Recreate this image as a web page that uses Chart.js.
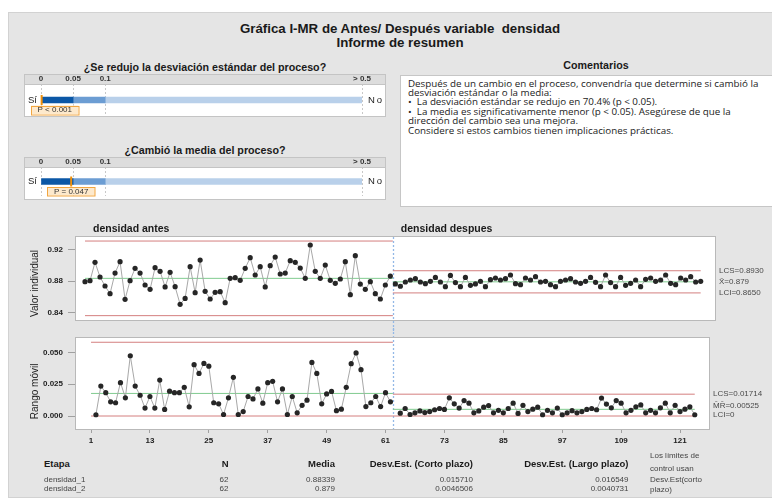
<!DOCTYPE html>
<html lang="es">
<head>
<meta charset="utf-8">
<title>Gráfica I-MR de Antes/Después variable densidad</title>
<script src="https://cdn.jsdelivr.net/npm/chart.js@4.4.1/dist/chart.umd.min.js"></script>
<style>
html,body{margin:0;padding:0;background:#ffffff;}
body{width:772px;height:502px;position:relative;overflow:hidden;font-family:"Liberation Sans",Arial,sans-serif;color:#1a1a1a;}
#panel{position:absolute;left:8px;top:12px;width:800px;height:486px;background:#e5e5e5;border-left:1px solid #d2d2d2;border-top:1px solid #d2d2d2;border-bottom:1px solid #d2d2d2;box-sizing:border-box;}
.t{position:absolute;white-space:pre;}
.b{font-weight:bold;}
canvas{position:absolute;}
#cbox{position:absolute;left:400px;top:75px;width:420px;height:132px;background:#fff;border:1px solid #c6c6c6;box-sizing:border-box;}
#ctext{position:absolute;left:408px;top:78.5px;font-family:"Open Sans",sans-serif;font-size:9.8px;line-height:9.4px;color:#222;white-space:pre;}
</style>
</head>
<body>
<div id="panel"></div>
<div class="t b" style="left:100px;width:600px;top:21px;text-align:center;font-size:13.3px;line-height:15px;">Gráfica I-MR de Antes/ Después variable  densidad</div>
<div class="t b" style="left:100px;width:600px;top:34.5px;text-align:center;font-size:13.3px;line-height:15px;">Informe de resumen</div>
<div class="t b" style="left:24px;width:362px;top:60.5px;text-align:center;font-size:10.7px;line-height:12px;">¿Se redujo la desviación estándar del proceso?</div>
<div class="t b" style="left:24px;width:362px;top:144px;text-align:center;font-size:10.7px;line-height:12px;">¿Cambió la media del proceso?</div>
<div class="t b" style="left:496px;width:200px;top:59px;text-align:center;font-size:10.7px;line-height:12px;">Comentarios</div>
<div id="cbox"></div>
<div id="ctext"></div>
<canvas id="q1" width="362" height="43" style="left:24px;top:74px"></canvas>
<canvas id="q2" width="362" height="43" style="left:24px;top:157px"></canvas>
<canvas id="ci" width="772" height="115" style="left:0;top:218px"></canvas>
<canvas id="cmr" width="772" height="122" style="left:0;top:328px"></canvas>
<div id="tbl"></div>
<script>
// ---------------- data ----------------
const stageNames = ['densidad antes', 'densidad despues'];
const stageFirst = [1, 63];
const indAntes = [0.8792,0.8804,0.9036,0.8851,0.8737,0.8640,0.8901,0.9044,0.8569,0.8804,
  0.8960,0.8901,0.8750,0.8695,0.8969,0.8922,0.8725,0.8910,0.8729,0.8506,
  0.8581,0.8981,0.8653,0.9065,0.8670,0.8573,0.8657,0.8666,0.8527,0.8834,
  0.8842,0.8809,0.8960,0.9095,0.8876,0.8981,0.8725,0.8994,0.9103,0.8889,
  0.8901,0.9057,0.9036,0.8964,0.8834,0.9255,0.8922,0.8834,0.9002,0.8809,
  0.8771,0.8826,0.9044,0.8628,0.9120,0.8762,0.8695,0.8792,0.8640,0.8573,
  0.8750,0.8863];
const indDespues = [0.8763,0.8734,0.8788,0.8813,0.8830,0.8788,0.8767,0.8796,0.8846,0.8788,
  0.8729,0.8871,0.8780,0.8729,0.8846,0.8746,0.8763,0.8796,0.8729,0.8817,
  0.8838,0.8813,0.8830,0.8876,0.8767,0.8754,0.8838,0.8813,0.8855,0.8788,
  0.8796,0.8754,0.8729,0.8796,0.8813,0.8830,0.8788,0.8771,0.8796,0.8846,
  0.8784,0.8729,0.8876,0.8780,0.8729,0.8846,0.8746,0.8771,0.8813,0.8729,
  0.8821,0.8838,0.8796,0.8813,0.8876,0.8771,0.8754,0.8838,0.8813,0.8855,
  0.8788,0.8796];
const mrAntes = [0.0010,0.0235,0.0183,0.0111,0.0104,0.0262,0.0143,0.0473,0.0235,0.0163,
  0.0062,0.0153,0.0062,0.0282,0.0052,0.0195,0.0183,0.0183,0.0225,0.0072,
  0.0403,0.0334,0.0413,0.0391,0.0104,0.0096,0.0012,0.0143,0.0304,0.0012,
  0.0035,0.0153,0.0134,0.0213,0.0101,0.0262,0.0272,0.0111,0.0213,0.0012,
  0.0153,0.0025,0.0084,0.0124,0.0421,0.0334,0.0096,0.0173,0.0193,0.0042,
  0.0054,0.0225,0.0411,0.0495,0.0364,0.0074,0.0104,0.0153,0.0074,0.0183,0.0111];
const mrDespues = [0.0022,0.0059,0.0012,0.0025,0.0040,0.0027,0.0035,0.0049,0.0059,0.0052,
  0.0143,0.0096,0.0062,0.0121,0.0101,0.0025,0.0040,0.0069,0.0082,0.0025,
  0.0045,0.0025,0.0059,0.0101,0.0020,0.0084,0.0035,0.0054,0.0069,0.0010,
  0.0045,0.0025,0.0062,0.0010,0.0025,0.0042,0.0025,0.0035,0.0052,0.0059,
  0.0049,0.0141,0.0094,0.0064,0.0121,0.0101,0.0025,0.0045,0.0072,0.0087,
  0.0025,0.0045,0.0025,0.0064,0.0101,0.0025,0.0084,0.0035,0.0054,0.0072,0.0010];
const iUCL = [0.9305, 0.8930];
const iCL  = [0.88339, 0.879];
const iLCL = [0.8363, 0.8650];
const mrUCL = [0.0579, 0.01714];
const mrCL  = [0.01772, 0.00525];
const mrLCL = [0, 0];
const obsTicks = [1,13,25,37,49,61,73,85,97,109,121];
const iTicks = [0.84, 0.88, 0.92];
const mrTicks = [0, 0.025, 0.05];
const pTicks = [0, 0.05, 0.1, 0.5];
const pTickLabels = ['0', '0.05', '0.1', '> 0.5'];
const pBandFrom = [0, 0.05, 0.1];
const pBandTo = [0.05, 0.1, 0.5];
const pValues = [0.001, 0.047];
const pLabels = ['P < 0.001', 'P = 0.047'];
const tblHead = ['Etapa', 'N', 'Media', 'Desv.Est. (Corto plazo)', 'Desv.Est. (Largo plazo)'];
const tblStage = ['densidad_1', 'densidad_2'];
const tblN = ['62', '62'];
const tblMean = ['0.88339', '0.879'];
const tblSdShort = ['0.015710', '0.0046506'];
const tblSdLong = ['0.016549', '0.0040731'];
const tblNote = ['Los límites de', 'control usan', 'Desv.Est(corto', 'plazo)'];
const comments = [
  'Después de un cambio en el proceso, convendría que determine si cambió la',
  'desviación estándar o la media:',
  '•  La desviación estándar se redujo en 70.4% (p < 0.05).',
  '•  La media es significativamente menor (p < 0.05). Asegúrese de que la',
  'dirección del cambio sea una mejora.',
  'Considere si estos cambios tienen implicaciones prácticas.'
];

// ---------------- comments & table text ----------------
document.getElementById('ctext').textContent = comments.join('\n');
const tbl = document.getElementById('tbl');
function txt(s, x, y, align, size, bold, color) {
  const d = document.createElement('div');
  d.className = 't';
  d.textContent = s;
  d.style.fontSize = size + 'px';
  d.style.lineHeight = '10px';
  d.style.top = (y - 5) + 'px';
  d.style.color = color;
  if (bold) d.style.fontWeight = 'bold';
  if (align === 'right') { d.style.left = (x - 200) + 'px'; d.style.width = '200px'; d.style.textAlign = 'right'; }
  else { d.style.left = x + 'px'; }
  tbl.appendChild(d);
}
const colX = [44, 228.5, 335, 473, 628.5];
const colAlign = ['left', 'right', 'right', 'right', 'right'];
tblHead.forEach((h, i) => txt(h, colX[i], 463.5, colAlign[i], 9.5, true, '#1a1a1a'));
const rowY = [480, 489];
tblStage.forEach((s, r) => {
  const row = [s, tblN[r], tblMean[r], tblSdShort[r], tblSdLong[r]];
  row.forEach((v, i) => txt(v, colX[i], rowY[r], colAlign[i], 8, false, '#444'));
});
const noteY = [456, 468.5, 480, 490];
tblNote.forEach((s, i) => txt(s, 650, noteY[i], 'left', 8, false, '#444'));

// ---------------- Chart.js ----------------
Chart.defaults.font.family = '"Liberation Sans", Arial, sans-serif';
Chart.defaults.animation = false;
Chart.defaults.responsive = false;
Chart.defaults.events = [];

// p-value bars
const pBandColors = ['#0b57a6', '#6c9dd3', '#b9d0ea'];
function makePChart(id, k, padBottom) {
  const markerPlugin = {
    id: 'pdeco' + k,
    beforeDraw(c) {
      const g = c.ctx, a = c.chartArea, W = c.width, H = c.height;
      g.save();
      g.fillStyle = '#dddddd'; g.fillRect(0, 0, W, a.top);
      g.fillStyle = '#ffffff'; g.fillRect(0, a.top, W, H - a.top);
      g.restore();
    },
    afterDraw(c) {
      const g = c.ctx, a = c.chartArea, W = c.width, H = c.height;
      const xs = c.scales.x, ys = c.scales.y;
      const cy = ys.getPixelForValue(0);
      g.save();
      g.strokeStyle = '#c4c4c4'; g.lineWidth = 1;
      g.strokeRect(0.5, 0.5, W - 1, H - 1);
      g.beginPath(); g.moveTo(0, Math.round(a.top) + 0.5); g.lineTo(W, Math.round(a.top) + 0.5); g.stroke();
      // Si / No
      g.fillStyle = '#222'; g.font = '9.5px "Liberation Sans"'; g.textBaseline = 'middle';
      g.textAlign = 'right'; g.fillText('Sí', a.left - 4, cy);
      g.textAlign = 'left';
      if ('letterSpacing' in g) g.letterSpacing = '2px';
      g.fillText('No', a.right + 6, cy);
      if ('letterSpacing' in g) g.letterSpacing = '0px';
      // marker
      const px = xs.getPixelForValue(pValues[k]);
      g.strokeStyle = '#f0900a'; g.lineWidth = 2;
      g.beginPath(); g.moveTo(px, cy - 5); g.lineTo(px, cy + 5); g.stroke();
      // label
      const bw = 47.5, bh = 8.5;
      let bl = px - bw / 2;
      if (bl < a.left - 10) bl = a.left - 10;
      const bt = cy + 5.5;
      g.fillStyle = '#fde9cc'; g.fillRect(bl, bt, bw, bh);
      g.strokeStyle = '#f2a640'; g.lineWidth = 1; g.strokeRect(Math.round(bl) + 0.5, Math.round(bt) + 0.5, bw, bh);
      g.fillStyle = '#333'; g.font = '8px "Liberation Sans"'; g.textAlign = 'center';
      g.fillText(pLabels[k], bl + bw / 2, bt + bh / 2 + 0.5);
      g.restore();
    }
  };
  return new Chart(document.getElementById(id), {
    type: 'bar',
    data: {
      labels: ['p'],
      datasets: pBandFrom.map((f, i) => ({
        data: [[f, pBandTo[i]]],
        backgroundColor: pBandColors[i],
        borderWidth: 0,
        barThickness: 6,
        grouped: false
      }))
    },
    options: {
      indexAxis: 'y',
      layout: { padding: { left: 17, right: 24, top: 0, bottom: padBottom } },
      plugins: { legend: { display: false }, tooltip: { enabled: false } },
      scales: {
        x: {
          type: 'linear', position: 'top', min: 0, max: 0.5,
          afterBuildTicks: s => { s.ticks = pTicks.map(v => ({ value: v })); },
          afterFit: s => { s.height = 10; },
          ticks: { autoSkip: false, maxRotation: 0, padding: 0, color: '#333',
                   font: { size: 8, weight: 'bold' }, callback: (v, i) => pTickLabels[i] },
          grid: { drawTicks: false, color: '#c8c8c8', lineWidth: 1 },
          border: { display: false, dash: [2, 2] }
        },
        y: { display: false }
      }
    },
    plugins: [markerPlugin]
  });
}
makePChart('q1', 0, 1);
makePChart('q2', 1, 4);

// control charts
const lastAntes = stageFirst[0] + indAntes.length - 1;
const boundary = (lastAntes + stageFirst[1]) / 2;
const lastObs = stageFirst[1] + indDespues.length - 1;
const spanFrom = [stageFirst[0], boundary];
const spanTo = [boundary, lastObs];
const RED = '#d47f7f', GREEN = '#80cb8f';

function pointsDS(arr, first) {
  return {
    data: arr.map((v, k) => ({ x: first + k, y: v })),
    borderColor: '#a8a8a8', borderWidth: 1, tension: 0,
    pointRadius: 2.6, pointBackgroundColor: '#262626', pointBorderColor: '#262626', pointBorderWidth: 0,
    order: 0
  };
}
function limitDS(vals, color) {
  return [0, 1].map(s => ({
    data: [{ x: spanFrom[s], y: vals[s] }, { x: spanTo[s], y: vals[s] }],
    borderColor: color, borderWidth: 1, pointRadius: 0, order: 1
  }));
}
function deco(o) {
  return {
    id: 'deco' + o.key,
    beforeDraw(c) {
      const a = c.chartArea, g = c.ctx;
      g.save(); g.fillStyle = '#fff'; g.fillRect(a.left, a.top, a.right - a.left, a.bottom - a.top); g.restore();
    },
    beforeDatasetsDraw(c) {
      const g = c.ctx, xs = c.scales.x;
      const bx = Math.round(xs.getPixelForValue(boundary)) + 0.5;
      g.save();
      g.strokeStyle = '#93b8e6'; g.lineWidth = 1.3; g.setLineDash([2, 2]);
      g.beginPath(); g.moveTo(bx, o.divTop(c)); g.lineTo(bx, o.divBottom(c)); g.stroke();
      g.restore();
    },
    afterDraw(c) {
      const a = c.chartArea, g = c.ctx, ys = c.scales.y, xs = c.scales.x;
      g.save();
      g.strokeStyle = '#b9b9b9'; g.lineWidth = 1;
      g.strokeRect(Math.round(a.left) - 0.5, Math.round(a.top) - 0.5, Math.round(a.right - a.left) + 1, Math.round(a.bottom - a.top) + 1);
      g.fillStyle = '#4a4a4a'; g.font = '8px "Liberation Sans"'; g.textAlign = 'left'; g.textBaseline = 'middle';
      o.right.forEach(r => g.fillText(r.text, a.right + 4, ys.getPixelForValue(r.v) + r.dy));
      if (o.stages) {
        g.fillStyle = '#1a1a1a'; g.font = 'bold 10.5px "Liberation Sans"';
        const anchors = [stageFirst[0], boundary];
        stageNames.forEach((n, s) => g.fillText(n, xs.getPixelForValue(anchors[s]) + 8, a.top - 8));
      }
      g.translate(35, (a.top + a.bottom) / 2 + o.titleDy);
      g.rotate(-Math.PI / 2);
      g.textAlign = 'center'; g.fillStyle = '#222'; g.font = '10px "Liberation Sans"';
      g.fillText(o.title, 0, 0);
      g.restore();
    }
  };
}
const yTickFont = { size: 8, weight: 'bold' };

new Chart(document.getElementById('ci'), {
  type: 'line',
  data: {
    datasets: [pointsDS(indAntes, stageFirst[0]), pointsDS(indDespues, stageFirst[1]),
      ...limitDS(iUCL, RED), ...limitDS(iCL, GREEN), ...limitDS(iLCL, RED)]
  },
  options: {
    layout: { padding: { left: 0, right: 57, top: 19, bottom: 13 } },
    plugins: { legend: { display: false }, tooltip: { enabled: false } },
    scales: {
      x: { type: 'linear', display: false, min: -0.8, max: 126.86 },
      y: {
        type: 'linear', min: 0.8308, max: 0.9356,
        afterBuildTicks: s => { s.ticks = iTicks.map(v => ({ value: v })); },
        afterFit: s => { s.width = 76; },
        ticks: { color: '#222', font: yTickFont, padding: 5, callback: v => v.toFixed(2) },
        grid: { drawOnChartArea: false, tickLength: 8, color: '#a0a0a0' },
        border: { display: false }
      }
    }
  },
  plugins: [deco({
    key: 'i', stages: true, title: 'Valor individual', titleDy: 5,
    divTop: c => c.chartArea.top, divBottom: c => c.height,
    right: [
      { text: 'LCS=' + iUCL[1].toFixed(4), v: iUCL[1], dy: 0 },
      { text: 'X\u0304=' + iCL[1], v: iCL[1], dy: 0 },
      { text: 'LCI=' + iLCL[1].toFixed(4), v: iLCL[1], dy: 0 }
    ]
  })]
});

new Chart(document.getElementById('cmr'), {
  type: 'line',
  data: {
    datasets: [pointsDS(mrAntes, stageFirst[0] + 1), pointsDS(mrDespues, stageFirst[1] + 1),
      ...limitDS(mrUCL, RED), ...limitDS(mrCL, GREEN), ...limitDS(mrLCL, RED)]
  },
  options: {
    layout: { padding: { left: 0, right: 63, top: 5, bottom: 0 } },
    plugins: { legend: { display: false }, tooltip: { enabled: false } },
    scales: {
      x: {
        type: 'linear', min: -2.06, max: 126.9,
        afterBuildTicks: s => { s.ticks = obsTicks.map(v => ({ value: v })); },
        afterFit: s => { s.height = 21; },
        ticks: { color: '#222', font: yTickFont, padding: 3, autoSkip: false, maxRotation: 0, callback: v => String(v) },
        grid: { drawOnChartArea: false, tickLength: 4, color: '#a0a0a0' },
        border: { display: false }
      },
      y: {
        type: 'linear', min: -0.0102, max: 0.0614,
        afterBuildTicks: s => { s.ticks = mrTicks.map(v => ({ value: v })); },
        afterFit: s => { s.width = 76; },
        ticks: { color: '#222', font: yTickFont, padding: 5, callback: v => v.toFixed(3) },
        grid: { drawOnChartArea: false, tickLength: 8, color: '#a0a0a0' },
        border: { display: false }
      }
    }
  },
  plugins: [deco({
    key: 'mr', stages: false, title: 'Rango móvil', titleDy: 8,
    divTop: c => 0, divBottom: c => c.chartArea.bottom,
    right: [
      { text: 'LCS=' + mrUCL[1].toFixed(5), v: mrUCL[1], dy: 0 },
      { text: 'M\u0304R\u0304=' + mrCL[1].toFixed(5), v: mrCL[1], dy: -4 },
      { text: 'LCI=' + mrLCL[1], v: mrLCL[1], dy: -1 }
    ]
  })]
});
</script>
</body>
</html>
